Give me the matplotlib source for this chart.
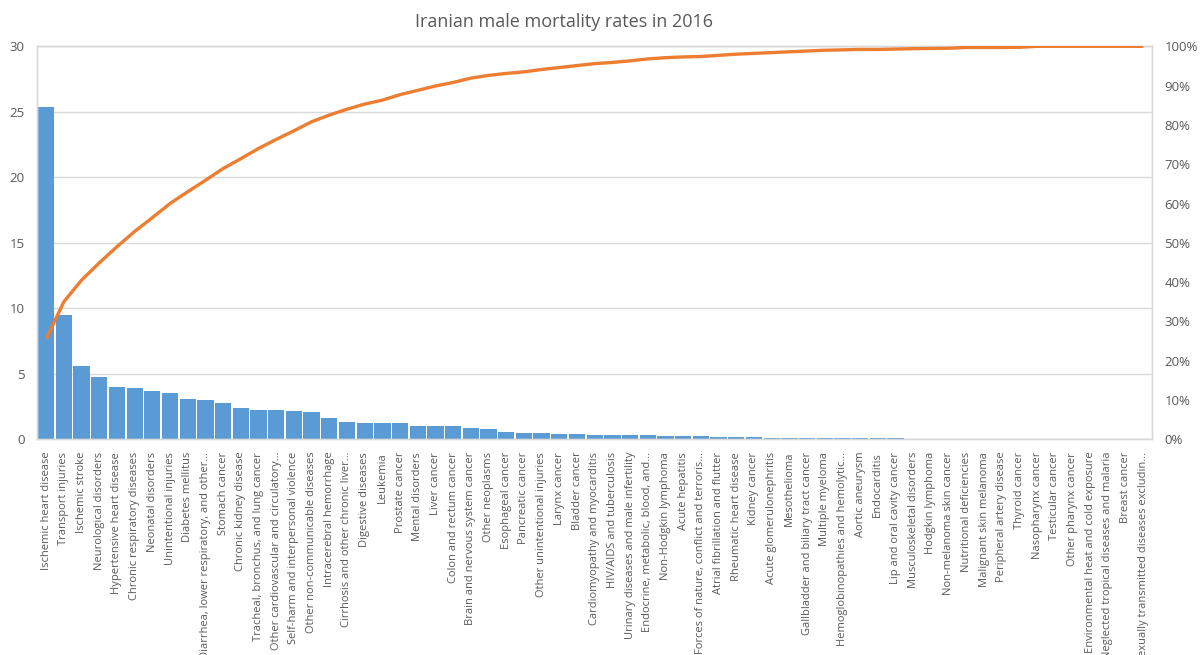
import matplotlib
matplotlib.use("Agg")
import matplotlib.pyplot as plt
from matplotlib.ticker import PercentFormatter
import numpy as np

causes = [
    "Ischemic heart disease", "Transport injuries", "Ischemic stroke",
    "Neurological disorders", "Hypertensive heart disease",
    "Chronic respiratory diseases", "Neonatal disorders",
    "Unintentional injuries", "Diabetes mellitus",
    "Diarrhea, lower respiratory, and other\u2026", "Stomach cancer",
    "Chronic kidney disease", "Tracheal, bronchus, and lung cancer",
    "Other cardiovascular and circulatory\u2026",
    "Self-harm and interpersonal violence", "Other non-communicable diseases",
    "Intracerebral hemorrhage", "Cirrhosis and other chronic liver\u2026",
    "Digestive diseases", "Leukemia", "Prostate cancer", "Mental disorders",
    "Liver cancer", "Colon and rectum cancer",
    "Brain and nervous system cancer", "Other neoplasms", "Esophageal cancer",
    "Pancreatic cancer", "Other unintentional injuries", "Larynx cancer",
    "Bladder cancer", "Cardiomyopathy and myocarditis",
    "HIV/AIDS and tuberculosis", "Urinary diseases and male infertility",
    "Endocrine, metabolic, blood, and\u2026", "Non-Hodgkin lymphoma",
    "Acute hepatitis", "Forces of nature, conflict and terroris\u2026",
    "Atrial fibrillation and flutter", "Rheumatic heart disease",
    "Kidney cancer", "Acute glomerulonephritis", "Mesothelioma",
    "Gallbladder and biliary tract cancer", "Multiple myeloma",
    "Hemoglobinopathies and hemolytic\u2026", "Aortic aneurysm", "Endocarditis",
    "Lip and oral cavity cancer", "Musculoskeletal disorders",
    "Hodgkin lymphoma", "Non-melanoma skin cancer", "Nutritional deficiencies",
    "Malignant skin melanoma", "Peripheral artery disease", "Thyroid cancer",
    "Nasopharynx cancer", "Testicular cancer", "Other pharynx cancer",
    "Environmental heat and cold exposure",
    "Neglected tropical diseases and malaria", "Breast cancer",
    "Sexually transmitted diseases excludin\u2026",
]

# share of deaths (bars, left axis)
rates = [
    25.33, 9.50, 5.62, 4.73, 3.97, 3.90, 3.67, 3.56, 3.08, 3.00,
    2.75, 2.42, 2.24, 2.22, 2.16, 2.06, 1.65, 1.32, 1.25, 1.24,
    1.24, 1.02, 1.01, 1.00, 0.84, 0.76, 0.58, 0.50, 0.45, 0.43,
    0.42, 0.35, 0.34, 0.34, 0.33, 0.27, 0.26, 0.25, 0.19, 0.18,
    0.17, 0.10, 0.10, 0.10, 0.10, 0.10, 0.10, 0.10, 0.10, 0.02,
    0.02, 0.02, 0.02, 0.02, 0.02, 0.02, 0.02, 0.02, 0.02, 0.02,
    0.02, 0.02, 0.02,
]

# cumulative percentage (line, right axis)
cumulative = [
    25.5, 35.0, 40.5, 44.9, 49.0, 52.9, 56.4, 60.0, 63.0, 65.9,
    68.9, 71.4, 74.0, 76.3, 78.5, 80.8, 82.5, 84.0, 85.3, 86.3,
    87.7, 88.8, 89.9, 90.8, 91.9, 92.6, 93.1, 93.5, 94.1, 94.6,
    95.1, 95.6, 95.9, 96.3, 96.8, 97.1, 97.3, 97.4, 97.7, 98.0,
    98.2, 98.4, 98.6, 98.8, 99.0, 99.1, 99.2, 99.2, 99.3, 99.4,
    99.45, 99.5, 99.7, 99.7, 99.7, 99.75, 100, 100, 100, 100,
    100, 100, 100,
]

text_col = "#595959"
grid_col = "#D9D9D9"
plt.rcParams["font.family"] = ["Open Sans", "DejaVu Sans"]

fig = plt.figure(figsize=(12, 6.55), dpi=100)
ax = fig.add_axes([0.0311, 0.3293, 0.929, 0.6])

x = np.arange(len(causes))
ax.bar(x, rates, width=0.92, color="#5B9BD5", zorder=2)
ax.set_xlim(-0.5, len(causes) - 0.5)
ax.set_ylim(0, 30)
ax.set_yticks(range(0, 31, 5))
ax.yaxis.grid(True, color=grid_col, linewidth=1, zorder=0)
ax.set_axisbelow(True)
ax.set_xticks(x)
ax.set_xticklabels(causes, rotation=90, fontsize=8, color=text_col)
ax.tick_params(axis="both", length=0, colors=text_col)
ax.tick_params(axis="y", labelsize=9.5, pad=9)
ax.tick_params(axis="x", pad=9)

ax2 = ax.twinx()
ax2.plot(x, cumulative, color="#ED7D31", linewidth=2.4, zorder=3,
         solid_capstyle="butt")
ax2.set_ylim(0, 100)
ax2.set_yticks(range(0, 101, 10))
ax2.yaxis.set_major_formatter(PercentFormatter(xmax=100, decimals=0))
ax2.tick_params(axis="y", length=0, colors=text_col, labelsize=9.5, pad=9)

for a in (ax, ax2):
    for s in a.spines.values():
        s.set_color(grid_col)
        s.set_linewidth(1)

fig.text(0.47, 0.967, "Iranian male mortality rates in 2016",
         ha="center", va="center", fontsize=13, color=text_col)

fig.savefig("out.png", dpi=100)
